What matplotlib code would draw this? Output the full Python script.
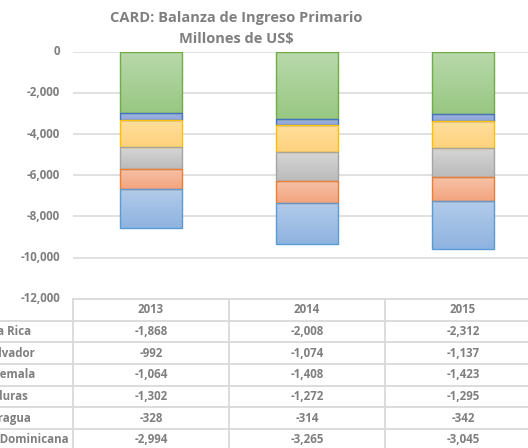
import numpy as np
import matplotlib
matplotlib.use("Agg")
import matplotlib.pyplot as plt
from matplotlib import transforms
from matplotlib.colors import LinearSegmentedColormap

plt.rcParams['font.family'] = ['Open Sans', 'DejaVu Sans']

years = ["2013", "2014", "2015"]
countries = ["Costa Rica", "El Salvador", "Guatemala", "Honduras", "Nicaragua", "Rep. Dominicana"]
costa_rica = [-1868, -2008, -2312]
el_salvador = [-992, -1074, -1137]
guatemala = [-1064, -1408, -1423]
honduras = [-1302, -1272, -1295]
nicaragua = [-328, -314, -342]
rep_dominicana = [-2994, -3265, -3045]
series = [costa_rica, el_salvador, guatemala, honduras, nicaragua, rep_dominicana]
yticks = [0, -2000, -4000, -6000, -8000, -10000, -12000]

styles = {
    "Costa Rica": ("#B2CBEA", "#8FB3E0", "#5B9BD5"),
    "El Salvador": ("#F7C2A8", "#F3A47F", "#ED7D31"),
    "Guatemala": ("#D6D6D6", "#BBBBBB", "#A5A5A5"),
    "Honduras": ("#FFDE9C", "#FFD27E", "#FFC000"),
    "Nicaragua": ("#A3B6E2", "#8DA5D8", "#4472C4"),
    "Rep. Dominicana": ("#B9D9AC", "#98C782", "#70AD47"),
}

TXT = "#7F7F7F"
GRID = "#D9D9D9"
W, H = 528, 448
fig = plt.figure(figsize=(W / 100, H / 100), dpi=100)

left_px, right_px = 73, 541
top_px, bot_px = 51.7, 298.9
ax = fig.add_axes([left_px / W, 1 - bot_px / H, (right_px - left_px) / W, (bot_px - top_px) / H])
ax.axis("off")

for yv in yticks[:-1]:
    ax.axhline(yv, color=GRID, lw=1.1, zorder=0)

x = np.arange(len(years))
bw = 0.4
bottom = np.zeros(len(years))
order = list(range(len(series)))[::-1]
grad = np.linspace(0, 1, 100).reshape(-1, 1)
for idx in order:
    vals = np.array(series[idx], dtype=float)
    top_c, bot_c, edge = styles[countries[idx]]
    cmap = LinearSegmentedColormap.from_list("g", [top_c, bot_c])
    bars = ax.bar(x, vals, bw, bottom=bottom, color="none", edgecolor=edge, linewidth=1.0, zorder=3)
    for b, btm, v in zip(bars, bottom, vals):
        im = ax.imshow(grad, cmap=cmap, aspect="auto", zorder=2,
                       extent=[b.get_x(), b.get_x() + b.get_width(), btm + v, btm], origin="upper")
        im.set_clip_path(b)
    bottom = bottom + vals
ax.set_xlim(-0.5, len(years) - 0.5)
ax.set_ylim(yticks[-1], yticks[0])

ov = fig.add_axes([0, 0, 1, 1], zorder=5)
ov.set_xlim(0, W)
ov.set_ylim(H, 0)
ov.axis("off")
ov.patch.set_alpha(0)

fs = 8.3
tfs = 10.5
for yv in yticks:
    ypx = ov.transData.inverted().transform(ax.transData.transform((0, yv)))[1]
    ov.text(60, ypx, f"{yv:,}", ha="right", va="center", color=TXT, fontsize=fs, fontweight="bold")

ov.text(236, 18, "CARD: Balanza de Ingreso Primario", ha="center", va="center",
        color=TXT, fontsize=tfs, fontweight="bold")
ov.text(236, 39.5, "Millones de US$", ha="center", va="center",
        color=TXT, fontsize=tfs, fontweight="bold")

bt = transforms.blended_transform_factory(ax.transData, ov.transData)
row_h = 21.7
table_top = bot_px
n_rows = len(countries) + 1
row_lines = [table_top + i * row_h for i in range(n_rows + 1)]
ov.plot([-0.5, len(years) - 0.5], [row_lines[0]] * 2, transform=bt, color=GRID, lw=1.3, clip_on=False)
for yl in row_lines[1:]:
    ov.plot([0, W], [yl, yl], color=GRID, lw=1.3, clip_on=False)
for xb in np.arange(len(years) + 1) - 0.5:
    ov.plot([xb, xb], [row_lines[0], row_lines[-1]], transform=bt, color=GRID, lw=1.3, clip_on=False)

for j, yr in enumerate(years):
    ov.text(j, table_top + row_h / 2, yr, transform=bt, ha="center", va="center",
            color=TXT, fontsize=fs, fontweight="bold")
for i, c in enumerate(countries):
    yc = table_top + (i + 1.5) * row_h
    ov.text(-28, yc, c, ha="left", va="center", color=TXT, fontsize=fs, fontweight="bold")
    for j in range(len(years)):
        ov.text(j, yc, f"{series[i][j]:,}", transform=bt, ha="center", va="center",
                color=TXT, fontsize=fs, fontweight="bold")

fig.savefig("out.png", dpi=100)
